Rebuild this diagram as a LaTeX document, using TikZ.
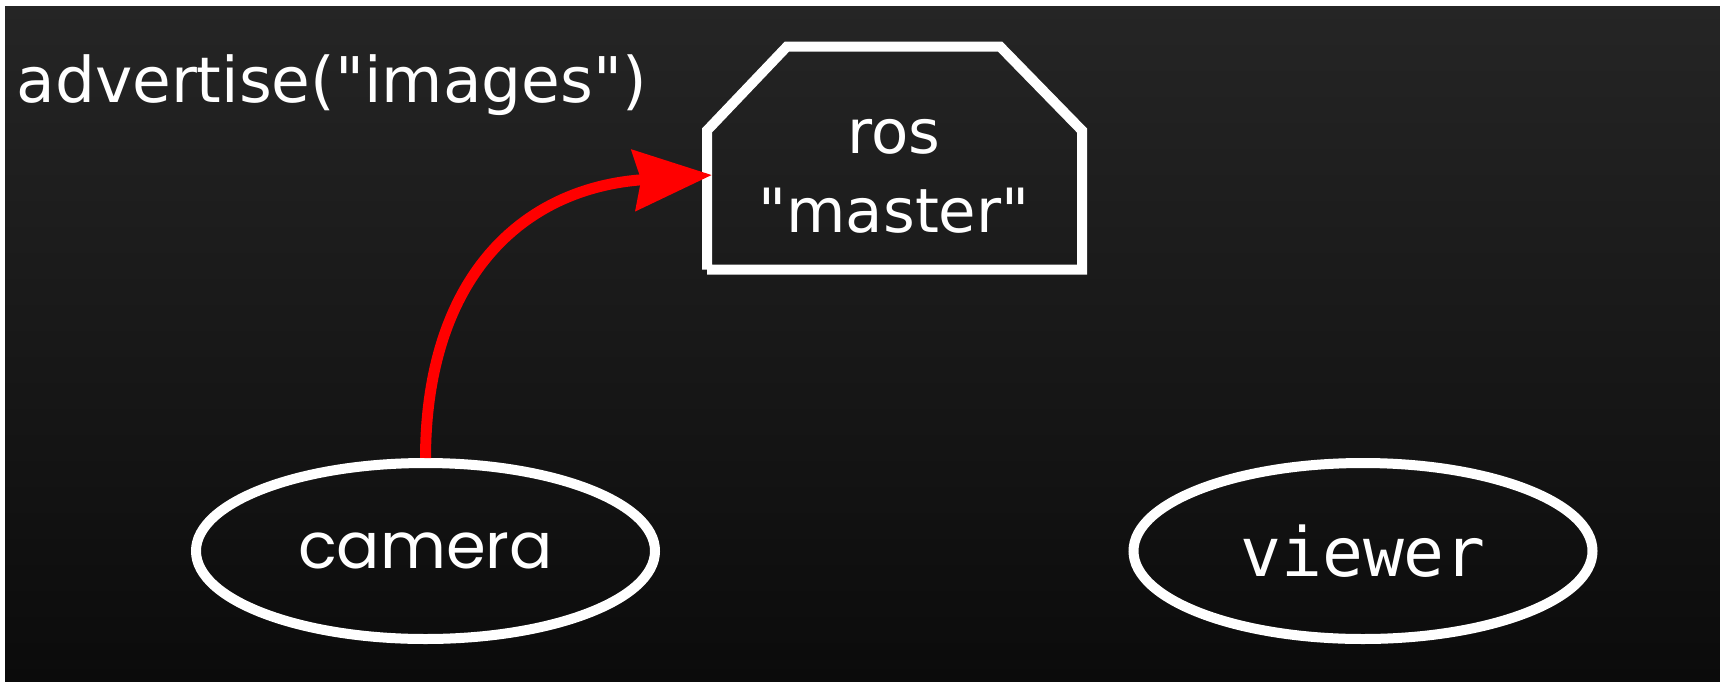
\documentclass[tikz,border=0pt]{standalone}
\usepackage{fontspec}
\setmainfont{DejaVu Sans}[Ligatures=TeXOff]
\newfontfamily\camfont{Poppins}[Ligatures=TeXOff]
\newfontfamily\viewfont{DejaVu Sans Mono}[Ligatures=TeXOff]
\usetikzlibrary{arrows.meta,shapes.geometric}
\definecolor{bgtop}{HTML}{252525}
\definecolor{bgbot}{HTML}{0B0B0B}
\tikzset{
  outline/.style={draw=white, line width=5pt, line join=miter, line cap=butt},
  procnode/.style={ellipse, draw=white, line width=5pt, inner sep=0pt, text=white,
    minimum width=229.5pt, minimum height=88pt},
  lbl/.style={text=white, inner sep=0pt},
  pubarrow/.style={draw=red, line width=5.5pt, -{Stealth[length=39pt,width=30pt,inset=3.5pt]}}
}
\begin{document}
\begin{tikzpicture}[x=0.5pt,y=-0.5pt]
\useasboundingbox (0,0) rectangle (1720,681);
\fill[white] (0,0) rectangle (1720,681);
\shade[top color=bgtop, bottom color=bgbot] (5,6) rectangle (1720,681);
% ros master
\node[inner sep=0pt, outer sep=0pt, minimum width=187.5pt, minimum height=111.5pt] (master) at (894.5,158) {};
\draw[outline] (master.south west) -- (master.south east)
  -- ([yshift=-42pt]master.north east) -- ([xshift=-41pt]master.north east)
  -- ([xshift=40pt]master.north west) -- ([yshift=-42pt]master.north west)
  -- (master.south west);
\node[lbl, anchor=base, font=\fontsize{30.5}{36}\selectfont] (roslbl) at (894,153) {ros};
\node[lbl, anchor=base, font=\fontsize{30.5}{36}\selectfont] (masterlbl) at (894,232) {"master"};
% caption
\node[lbl, anchor=base west, font=\fontsize{31.5}{38}\selectfont] (advlbl) at (16,102) {advertise("images")};
% processes
\node[procnode, font=\camfont\fontsize{32}{38}\selectfont] (camera) at (425.5,551) {camera};
\node[procnode, font=\viewfont\fontsize{34}{40}\selectfont] (viewer) at (1363,551) {viewer};
% arrow
\draw[pubarrow] (camera.north) .. controls (426,280) and (520,188) .. ([xshift=2.5pt,yshift=-8.5pt]master.west);
\end{tikzpicture}
\end{document}
